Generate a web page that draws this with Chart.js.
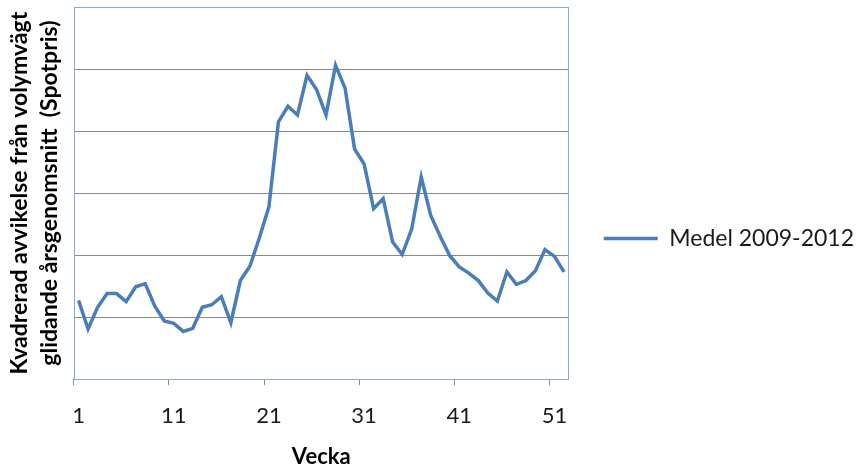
<!DOCTYPE html>
<html>
<head>
<meta charset="utf-8">
<script src="https://cdn.jsdelivr.net/npm/chart.js@4"></script>
<style>
  body { margin: 0; background: #fff; }
  #wrap { width: 864px; height: 470px; }
</style>
</head>
<body>
<div id="wrap"><canvas id="myChart"></canvas></div>
<script>
const weeks = [];
for (let w = 1; w <= 52; w++) weeks.push(String(w));

const seriesName = 'Medel 2009-2012';
const medel = [
  1.27, 0.81, 1.16, 1.38, 1.38, 1.25, 1.49, 1.54, 1.18, 0.94,
  0.90, 0.77, 0.82, 1.16, 1.20, 1.33, 0.91, 1.59, 1.82, 2.28,
  2.78, 4.15, 4.40, 4.26, 4.90, 4.67, 4.26, 5.06, 4.69, 3.71,
  3.47, 2.75, 2.91, 2.21, 2.01, 2.42, 3.26, 2.64, 2.30, 1.99,
  1.81, 1.71, 1.59, 1.39, 1.26, 1.73, 1.53, 1.59, 1.75, 2.09,
  1.98, 1.73
];

const yTitle = ['Kvadrerad avvikelse från volymvägt', 'glidande årsgenomsnitt  (Spotpris)'];
const xTitle = 'Vecka';

const font = 'Lato, sans-serif';

// frame around the plot area, like the Excel chart
const plotFrame = {
  id: 'plotFrame',
  beforeDatasetsDraw(chart) {
    const {ctx, chartArea: a} = chart;
    ctx.save();
    ctx.strokeStyle = '#86A8D4';
    ctx.lineWidth = 1;
    ctx.strokeRect(Math.round(a.left) + 0.5, Math.round(a.top) + 0.5,
      Math.round(a.right - a.left) - 1, Math.round(a.bottom - a.top));
    ctx.restore();
  }
};

const ctx = document.getElementById('myChart');
new Chart(ctx, {
  type: 'line',
  data: {
    labels: weeks,
    datasets: [{
      label: seriesName,
      data: medel,
      borderColor: '#4A7EBB',
      backgroundColor: '#4A7EBB',
      borderWidth: 3.5,
      pointRadius: 0,
      tension: 0,
    }]
  },
  plugins: [plotFrame],
  options: {
    responsive: true,
    maintainAspectRatio: false,
    animation: false,
    layout: {
      padding: { top: 7, left: 0, right: 0, bottom: 0 }
    },
    plugins: {
      tooltip: { enabled: false },
      legend: {
        position: 'right',
        maxWidth: 400,
        labels: {
          usePointStyle: true,
          pointStyle: 'line',
          pointStyleWidth: 54,
          padding: 35,
          color: '#1a1a1a',
          font: { family: font, size: 23 },
        }
      }
    },
    scales: {
      x: {
        offset: true,
        grid: {
          offset: true,
          drawOnChartArea: false,
          tickLength: 6,
          color: c => (c.index % 10 === 0 ? '#8C8C8C' : 'rgba(0,0,0,0)'),
        },
        border: { display: false },
        ticks: {
          autoSkip: false,
          maxRotation: 0,
          padding: 18,
          color: '#1a1a1a',
          font: { family: font, size: 22 },
          callback: (v, i) => (i % 10 === 0 ? weeks[i] : ''),
        },
        title: {
          display: true,
          text: xTitle,
          color: '#000',
          padding: { top: -4, bottom: 0 },
          font: { family: font, size: 22, weight: 'bold' },
        }
      },
      y: {
        min: 0,
        max: 6,
        ticks: { display: false, stepSize: 1 },
        grid: { color: '#888888', drawTicks: false },
        border: { display: false },
        title: {
          display: true,
          text: yTitle,
          color: '#000',
          padding: { top: 5, bottom: 9 },
          font: { family: font, size: 23, weight: 'bold', lineHeight: 1.3 },
        }
      }
    }
  }
});
</script>
</body>
</html>
